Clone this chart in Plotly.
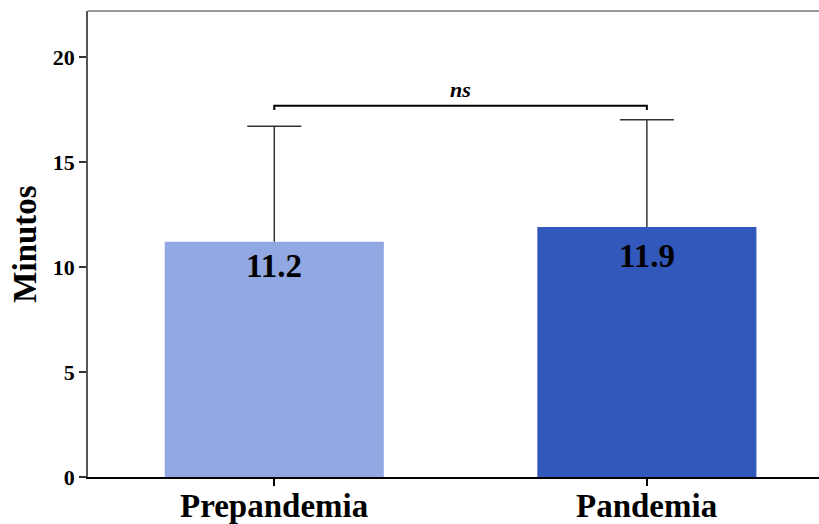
import plotly.graph_objects as go

# Mean time (minutes) per period, with upper SD
periods = ["Prepandemia", "Pandemia"]
means = [11.2, 11.9]
sd_upper = [5.5, 5.1]
bar_colors = ["#91A8E2", "#3358BC"]
y_ticks = [0, 5, 10, 15, 20]
sig_label = "ns"

FONT = "Liberation Serif, Times New Roman, serif"

fig = go.Figure()
fig.add_trace(go.Bar(
    x=list(range(len(periods))),
    y=means,
    marker=dict(color=bar_colors, line=dict(width=0)),
    width=0.588,
    hoverinfo="y",
))

# One-sided (upper) error bars: stem from bar top to mean + SD, with a cap
cap_half = 0.0725
for i, (m, e) in enumerate(zip(means, sd_upper)):
    fig.add_shape(type="line", xref="x", yref="y", x0=i, x1=i, y0=m, y1=m + e,
                  line=dict(color="#333333", width=1.5))
    fig.add_shape(type="line", xref="x", yref="y", x0=i - cap_half, x1=i + cap_half,
                  y0=m + e, y1=m + e, line=dict(color="#333333", width=1.5))

# Value labels inside the top of each bar
label_shift = [-24, -29]
for i, (m, s) in enumerate(zip(means, label_shift)):
    fig.add_annotation(x=i, y=m, text=f"<b>{m:.1f}</b>", showarrow=False,
                       yanchor="middle", yshift=s,
                       font=dict(family=FONT, size=33, color="black"))

# Category names under the axis
for i, p in enumerate(periods):
    fig.add_annotation(x=i, xref="x", y=0, yref="paper", text=f"<b>{p}</b>",
                       showarrow=False, yanchor="middle", yshift=-29,
                       font=dict(family=FONT, size=33, color="black"))

# Significance bracket between the two bars
tops = [m + e for m, e in zip(means, sd_upper)]
bracket_y = max(tops) + 0.67
drop = 0.2
fig.add_shape(type="path", xref="x", yref="y",
              path=f"M 0,{bracket_y - drop} L 0,{bracket_y} L 1,{bracket_y} L 1,{bracket_y - drop}",
              line=dict(color="black", width=2))
fig.add_annotation(x=0.5, y=bracket_y, text=f"<b><i>{sig_label}</i></b>",
                   showarrow=False, yanchor="bottom", yshift=2,
                   font=dict(family=FONT, size=22, color="black"))

# Top frame line
fig.add_shape(type="line", xref="paper", yref="paper", x0=0, x1=1, y0=1, y1=1,
              line=dict(color="#777777", width=1.5))

fig.update_layout(
    width=819, height=524,
    margin=dict(l=88, r=0, t=11, b=47),
    plot_bgcolor="white", paper_bgcolor="white",
    showlegend=False,
    font=dict(family=FONT, color="black"),
)
fig.update_xaxes(
    range=[-0.5, 1.462],
    tickvals=list(range(len(periods))),
    showticklabels=False,
    showline=True, linecolor="black", linewidth=2,
    ticks="outside", ticklen=7, tickwidth=1.5, tickcolor="black",
    showgrid=False, zeroline=False, automargin=False,
)
fig.update_yaxes(
    range=[0, 22.18],
    tickvals=y_ticks,
    ticktext=[f"<b>{v}</b>" for v in y_ticks],
    showline=True, linecolor="#555555", linewidth=1.5,
    ticks="outside", ticklen=7, tickwidth=1.5, tickcolor="#333333",
    tickfont=dict(family=FONT, size=22, color="black"),
    showgrid=False, zeroline=False, automargin=False,
    title=dict(text="<b>Minutos</b>", font=dict(family=FONT, size=33, color="black"),
               standoff=6),
)

fig.write_html("out.html")
